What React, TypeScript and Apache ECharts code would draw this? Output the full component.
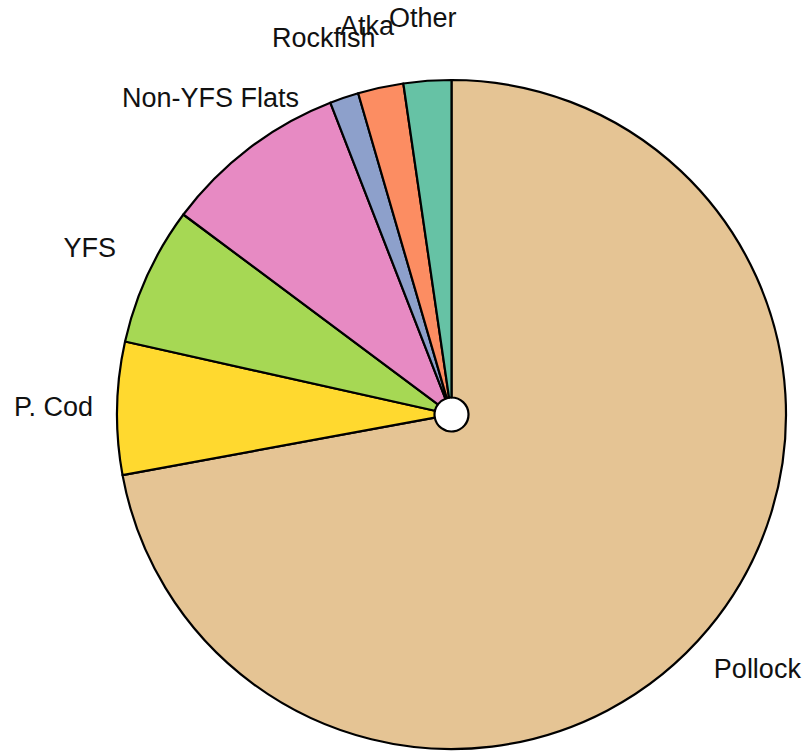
import React, { useEffect, useRef } from "react";
import * as echarts from "echarts";

const categories = ["Pollock", "P. Cod", "YFS", "Non-YFS Flats", "Rockfish", "Atka", "Other"];
const values = [72.1, 6.4, 6.7, 8.9, 1.4, 2.2, 2.3];
const colors = ["#E5C494", "#FFD92F", "#A6D854", "#E78AC3", "#8DA0CB", "#FC8D62", "#66C2A5"];

export default function App() {
  const ref = useRef<HTMLDivElement>(null);
  useEffect(() => {
    document.body.style.margin = "0";
    const chart = echarts.init(ref.current!, null, { renderer: "svg" });
    const data = categories.map((name, i) => ({
      name,
      value: values[i],
      itemStyle: { color: colors[i] },
    }));
    chart.setOption({
      animation: false,
      backgroundColor: "#ffffff",
      series: [
        {
          type: "pie",
          center: [451.5, 414.5],
          radius: [17, 334.5],
          startAngle: 90,
          clockwise: true,
          silent: true,
          data,
          itemStyle: { borderColor: "#000000", borderWidth: 2.2, borderJoin: "round" },
          label: { show: false },
          labelLine: { show: false },
        },
        {
          type: "pie",
          center: [451.5, 414.5],
          radius: [0, 790],
          startAngle: 90,
          clockwise: true,
          silent: true,
          avoidLabelOverlap: false,
          labelLayout: { hideOverlap: false },
          z: 3,
          data: categories.map((name, i) => ({ name, value: values[i] })),
          itemStyle: { color: "rgba(0,0,0,0)", borderWidth: 0 },
          label: {
            show: true,
            position: "inside",
            formatter: "{b}",
            color: "#111111",
            fontFamily: "Liberation Sans, Arial, sans-serif",
            fontSize: 27,
            textBorderWidth: 0,
          },
          labelLine: { show: false },
        },
      ],
    });
    return () => chart.dispose();
  }, []);
  return <div ref={ref} style={{ width: 803, height: 751 }} />;
}
